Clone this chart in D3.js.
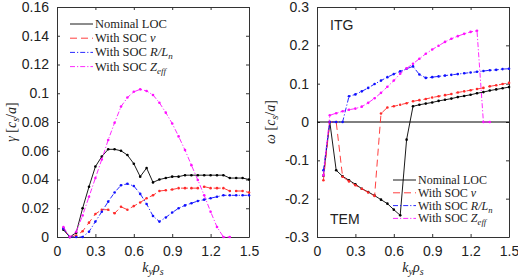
<!DOCTYPE html>
<html>
<head>
<meta charset="utf-8">
<script src="https://cdn.jsdelivr.net/npm/d3@7"></script>
<style>
  body { margin: 0; background: #fff; }
  svg { display: block; }
  .tick-label { font-family: "Liberation Sans", Arial, sans-serif; font-size: 14px; fill: #222; }
  .tex { font-family: "Liberation Serif", "DejaVu Serif", serif; fill: #222; }
</style>
</head>
<body>
<div id="chart"></div>
<script>
// wavenumbers k_y rho_s
const ky = [0.05, 0.1, 0.15, 0.2, 0.25, 0.3, 0.35, 0.4, 0.45, 0.5,
            0.55, 0.6, 0.65, 0.7, 0.75, 0.8, 0.85, 0.9, 0.95, 1.0,
            1.05, 1.1, 1.15, 1.2, 1.25, 1.3, 1.35, 1.4, 1.45, 1.5]

// growth rates gamma [c_s/a]
const gammaNominal = [0.005, 0, 0.003, 0.020, 0.035, 0.049, 0.056, 0.061, 0.061, 0.060,
                      0.057, 0.051, 0.042, 0.048, 0.038, 0.040, 0.041, 0.042, 0.042, 0.043,
                      0.043, 0.043, 0.043, 0.043, 0.043, 0.043, 0.041, 0.041, 0.041, 0.040]
const gammaNu = [0.006, 0, 0.001, 0.004, 0.010, 0.016, 0.019, 0.019, 0.0165, 0.021,
                 0.019, 0.0215, 0.024, 0.027, 0.029, 0.032, 0.0325, 0.033, 0.034, 0.034,
                 0.034, 0.034, 0.035, 0.034, 0.034, 0.034, 0.032, 0.032, 0.032, 0.031]
const gammaRLn = [0.006, 0, 0, 0, 0.0037, 0.0107, 0.0176, 0.0246, 0.031, 0.036,
                  0.037, 0.0355, 0.030, 0.023, 0.0146, 0.0107, 0.0136, 0.017, 0.020, 0.022,
                  0.0235, 0.025, 0.026, 0.027, 0.028, 0.029, 0.029, 0.029, 0.029, 0.029]
const gammaZeff = [0.007, 0, 0.0037, 0.015, 0.028, 0.041, 0.054, 0.0675, 0.0795, 0.0907,
                   0.097, 0.101, 0.1027, 0.1016, 0.0988, 0.0934, 0.0865, 0.079, 0.070, 0.0605,
                   0.050, 0.0397, 0.029, 0.0176, 0.007, 0, 0]

// real frequencies omega [c_s/a]
const omegaNominal = [-0.14, 0, -0.126, -0.1417, -0.152, -0.1625, -0.174, -0.1826, -0.192, -0.2026,
                      -0.213, -0.2287, -0.2435, -0.046, 0.041, 0.045, 0.048, 0.051, 0.055, 0.058,
                      0.061, 0.065, 0.068, 0.071, 0.075, 0.078, 0.082, 0.085, 0.088, 0.091]
const omegaNu = [-0.152, 0, 0, -0.143, -0.155, -0.165, -0.174, -0.184, -0.193, 0.022,
                 0.038, 0.041, 0.045, 0.049, 0.054, 0.057, 0.060, 0.064, 0.067, 0.070,
                 0.073, 0.077, 0.080, 0.083, 0.086, 0.089, 0.093, 0.096, 0.099, 0.102]
const omegaRLn = [-0.126, 0, 0, 0, 0.067, 0.072, 0.080, 0.089, 0.099, 0.108,
                  0.117, 0.125, 0.132, 0.139, 0.145, 0.124, 0.115, 0.117, 0.119, 0.121,
                  0.123, 0.125, 0.127, 0.129, 0.131, 0.133, 0.135, 0.136, 0.138, 0.139]
const omegaZeff = [-0.139, 0.0175, 0.023, 0.028, 0.032, 0.035, 0.040, 0.050, 0.062, 0.076,
                   0.092, 0.108, 0.126, 0.140, 0.152, 0.165, 0.178, 0.189, 0.199, 0.209,
                   0.217, 0.224, 0.230, 0.235, 0.238, 0, 0]

const xTicks = [0, 0.3, 0.6, 0.9, 1.2, 1.5]
const gammaTicks = [0, 0.02, 0.04, 0.06, 0.08, 0.1, 0.12, 0.14, 0.16]
const omegaTicks = [-0.3, -0.2, -0.1, 0, 0.1, 0.2, 0.3]

const seriesStyle = [
    { key: 'nom', color: '#000000', dash: null },
    { key: 'nu', color: '#ff2a2a', dash: '7,4' },
    { key: 'rln', color: '#1010ff', dash: '5,2,1.2,2' },
    { key: 'zeff', color: '#ff10ff', dash: '5,2,1.2,2' }
]

const W = 518, H = 279
const svg = d3.select('#chart').append('svg').attr('width', W).attr('height', H)

const fmt = d => d3.format('~g')(d).replace('−', '-')

// legend label builders (tex-like)
const legendText = [
    t => { t.append('tspan').text('Nominal LOC') },
    t => { t.append('tspan').text('With SOC '); t.append('tspan').attr('font-style', 'italic').text('ν') },
    t => { t.append('tspan').text('With SOC '); t.append('tspan').attr('font-style', 'italic').text('R/L');
           t.append('tspan').attr('font-style', 'italic').attr('font-size', '0.72em').attr('dy', 3).text('n') },
    t => { t.append('tspan').text('With SOC '); t.append('tspan').attr('font-style', 'italic').text('Z');
           t.append('tspan').attr('font-style', 'italic').attr('font-size', '0.72em').attr('dy', 3).text('eff') }
]

const drawPanel = (opts) => {
    const { x0, x1, y0, y1, domain, yTicks, series, ylabSym, ylabX, legend } = opts
    const x = d3.scaleLinear().domain([0, 1.5]).range([x0, x1])
    const y = d3.scaleLinear().domain(domain).range([y1, y0])
    const g = svg.append('g')

    // axes with inward ticks on all four sides
    const ax = []
    ax.push(g.append('g').attr('transform', `translate(0,${y1})`)
        .call(d3.axisBottom(x).tickValues(xTicks).tickSizeInner(-3).tickSizeOuter(0).tickPadding(9).tickFormat(fmt)))
    ax.push(g.append('g').attr('transform', `translate(${x0},0)`)
        .call(d3.axisLeft(y).tickValues(yTicks).tickSizeInner(-3).tickSizeOuter(0).tickPadding(8).tickFormat(fmt)))
    const top = g.append('g').attr('transform', `translate(0,${y0})`)
        .call(d3.axisTop(x).tickValues(xTicks).tickSizeInner(-3).tickSizeOuter(0))
    const rgt = g.append('g').attr('transform', `translate(${x1},0)`)
        .call(d3.axisRight(y).tickValues(yTicks).tickSizeInner(-3).tickSizeOuter(0))
    top.selectAll('.tick text').remove()
    rgt.selectAll('.tick text').remove()
    g.selectAll('.domain').attr('stroke', '#333')
    g.selectAll('.tick line').attr('stroke', '#333')
    ax.forEach(a => a.selectAll('.tick text').attr('class', 'tick-label').attr('font-size', null).attr('font-family', null))

    if (domain[0] < 0) {
        g.append('line').attr('x1', x0).attr('x2', x1).attr('y1', y(0)).attr('y2', y(0))
            .attr('stroke', '#000').attr('stroke-width', 1)
    }

    // series
    series.forEach((vals, i) => {
        const st = seriesStyle[i]
        const pts = vals.map((v, j) => [ky[j], v])
        g.append('path').datum(pts)
            .attr('d', d3.line().x(d => x(d[0])).y(d => y(d[1])))
            .attr('fill', 'none').attr('stroke', st.color).attr('stroke-width', 0.9)
            .attr('stroke-dasharray', st.dash)
        g.append('g').selectAll('circle').data(pts).enter().append('circle')
            .attr('cx', d => x(d[0])).attr('cy', d => y(d[1])).attr('r', 1.3)
            .attr('fill', st.color)
    })

    // legend
    legend.rows.forEach((row, i) => {
        const ly = legend.y + i * legend.dy
        g.append('line').attr('x1', legend.x).attr('x2', legend.x + 23).attr('y1', ly).attr('y2', ly)
            .attr('stroke', seriesStyle[i].color).attr('stroke-width', 0.9)
            .attr('stroke-dasharray', seriesStyle[i].dash)
        const t = g.append('text').attr('class', 'tex').attr('x', legend.x + 25).attr('y', ly + 4)
            .attr('font-size', legend.fs)
        legendText[i](t)
    })

    // y label
    const yl = g.append('text').attr('class', 'tex').attr('font-size', 14)
        .attr('transform', `translate(${ylabX},${(y0 + y1) / 2}) rotate(-90)`)
        .attr('text-anchor', 'middle')
    yl.append('tspan').attr('font-style', 'italic').text(ylabSym + ' ')
    yl.append('tspan').text('[')
    yl.append('tspan').attr('font-style', 'italic').text('c')
    yl.append('tspan').attr('font-style', 'italic').attr('font-size', 10).attr('dy', 3).text('s')
    yl.append('tspan').attr('dy', -3).text('/')
    yl.append('tspan').attr('font-style', 'italic').text('a')
    yl.append('tspan').text(']')

    // x label
    const xl = g.append('text').attr('class', 'tex').attr('font-size', 14)
        .attr('x', (x0 + x1) / 2).attr('y', 272).attr('text-anchor', 'middle')
    xl.append('tspan').attr('font-style', 'italic').text('k')
    xl.append('tspan').attr('font-style', 'italic').attr('font-size', 10).attr('dy', 3).text('y')
    xl.append('tspan').attr('font-style', 'italic').attr('dy', -3).text('ρ')
    xl.append('tspan').attr('font-style', 'italic').attr('font-size', 10).attr('dy', 3).text('s')
    return g
}

drawPanel({
    x0: 57, x1: 249, y0: 7, y1: 237, domain: [0, 0.16], yTicks: gammaTicks,
    series: [gammaNominal, gammaNu, gammaRLn, gammaZeff], ylabSym: 'γ', ylabX: 16,
    legend: { x: 70, y: 24, dy: 14.2, fs: 12.5, rows: [0, 1, 2, 3] }
})

const right = drawPanel({
    x0: 317, x1: 509, y0: 7, y1: 237, domain: [-0.3, 0.3], yTicks: omegaTicks,
    series: [omegaNominal, omegaNu, omegaRLn, omegaZeff], ylabSym: 'ω', ylabX: 275,
    legend: { x: 393, y: 180, dy: 12.8, fs: 12, rows: [0, 1, 2, 3] }
})

right.append('text').attr('class', 'tick-label').attr('x', 330).attr('y', 30).text('ITG')
right.append('text').attr('class', 'tick-label').attr('x', 330).attr('y', 224).text('TEM')
</script>
</body>
</html>
